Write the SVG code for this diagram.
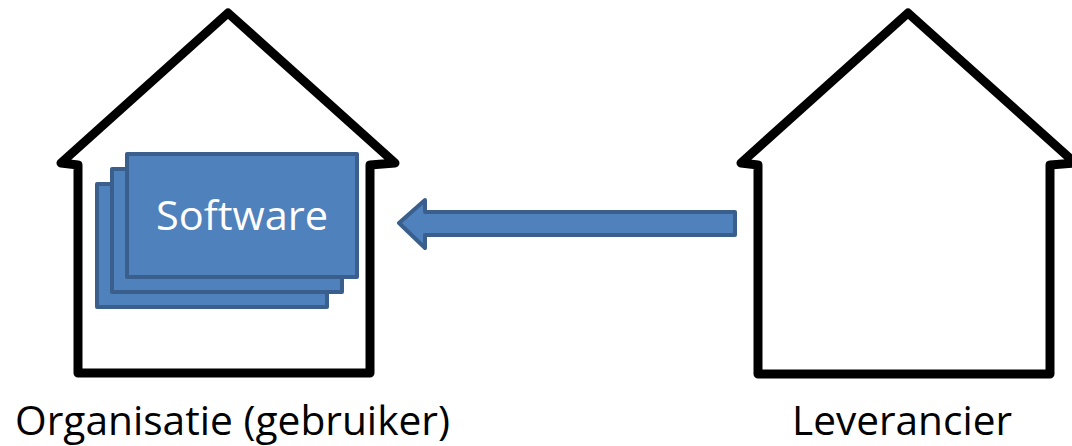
<svg xmlns="http://www.w3.org/2000/svg" width="1072" height="446" viewBox="0 0 1072 446">
<style>
.house{fill:#fff;stroke:#000;stroke-width:9;stroke-linejoin:round;stroke-linecap:round}
.card{fill:#4F81BD;stroke:#3A5F8D;stroke-width:4;stroke-linejoin:round}
.lbl{font-family:"Open Sans","Liberation Sans",Arial,sans-serif;font-size:40px;fill:#000}
.sw{font-family:"Open Sans","Liberation Sans",Arial,sans-serif;font-size:40px;fill:#fff}
</style>
<rect width="1072" height="446" fill="#fff"/>
<g id="house-organisatie">
<path class="house" d="M78,373 L78,165 L61,163 L228,13 L395,163 L370,165 L370,373 Z"/>
<text class="lbl" x="15" y="435" textLength="435" lengthAdjust="spacingAndGlyphs">Organisatie (gebruiker)</text>
</g>
<g id="software">
<rect class="card" x="97" y="184" width="230" height="123"/>
<rect class="card" x="112" y="169" width="230" height="123"/>
<rect class="card" x="127" y="154" width="230" height="123"/>
<text class="sw" x="156" y="230" textLength="172" lengthAdjust="spacingAndGlyphs">Software</text>
</g>
<g id="house-leverancier">
<path class="house" d="M758,374 L758,165 L741,163 L908,13 L1075,163 L1050,165 L1050,374 Z"/>
<text class="lbl" x="792" y="435" textLength="220" lengthAdjust="spacingAndGlyphs">Leverancier</text>
</g>
<g id="connectors">
<path class="card" d="M735,212 L425,212 L425,200 L399,223 L425,248 L425,235 L735,235 Z"/>
</g>
</svg>
